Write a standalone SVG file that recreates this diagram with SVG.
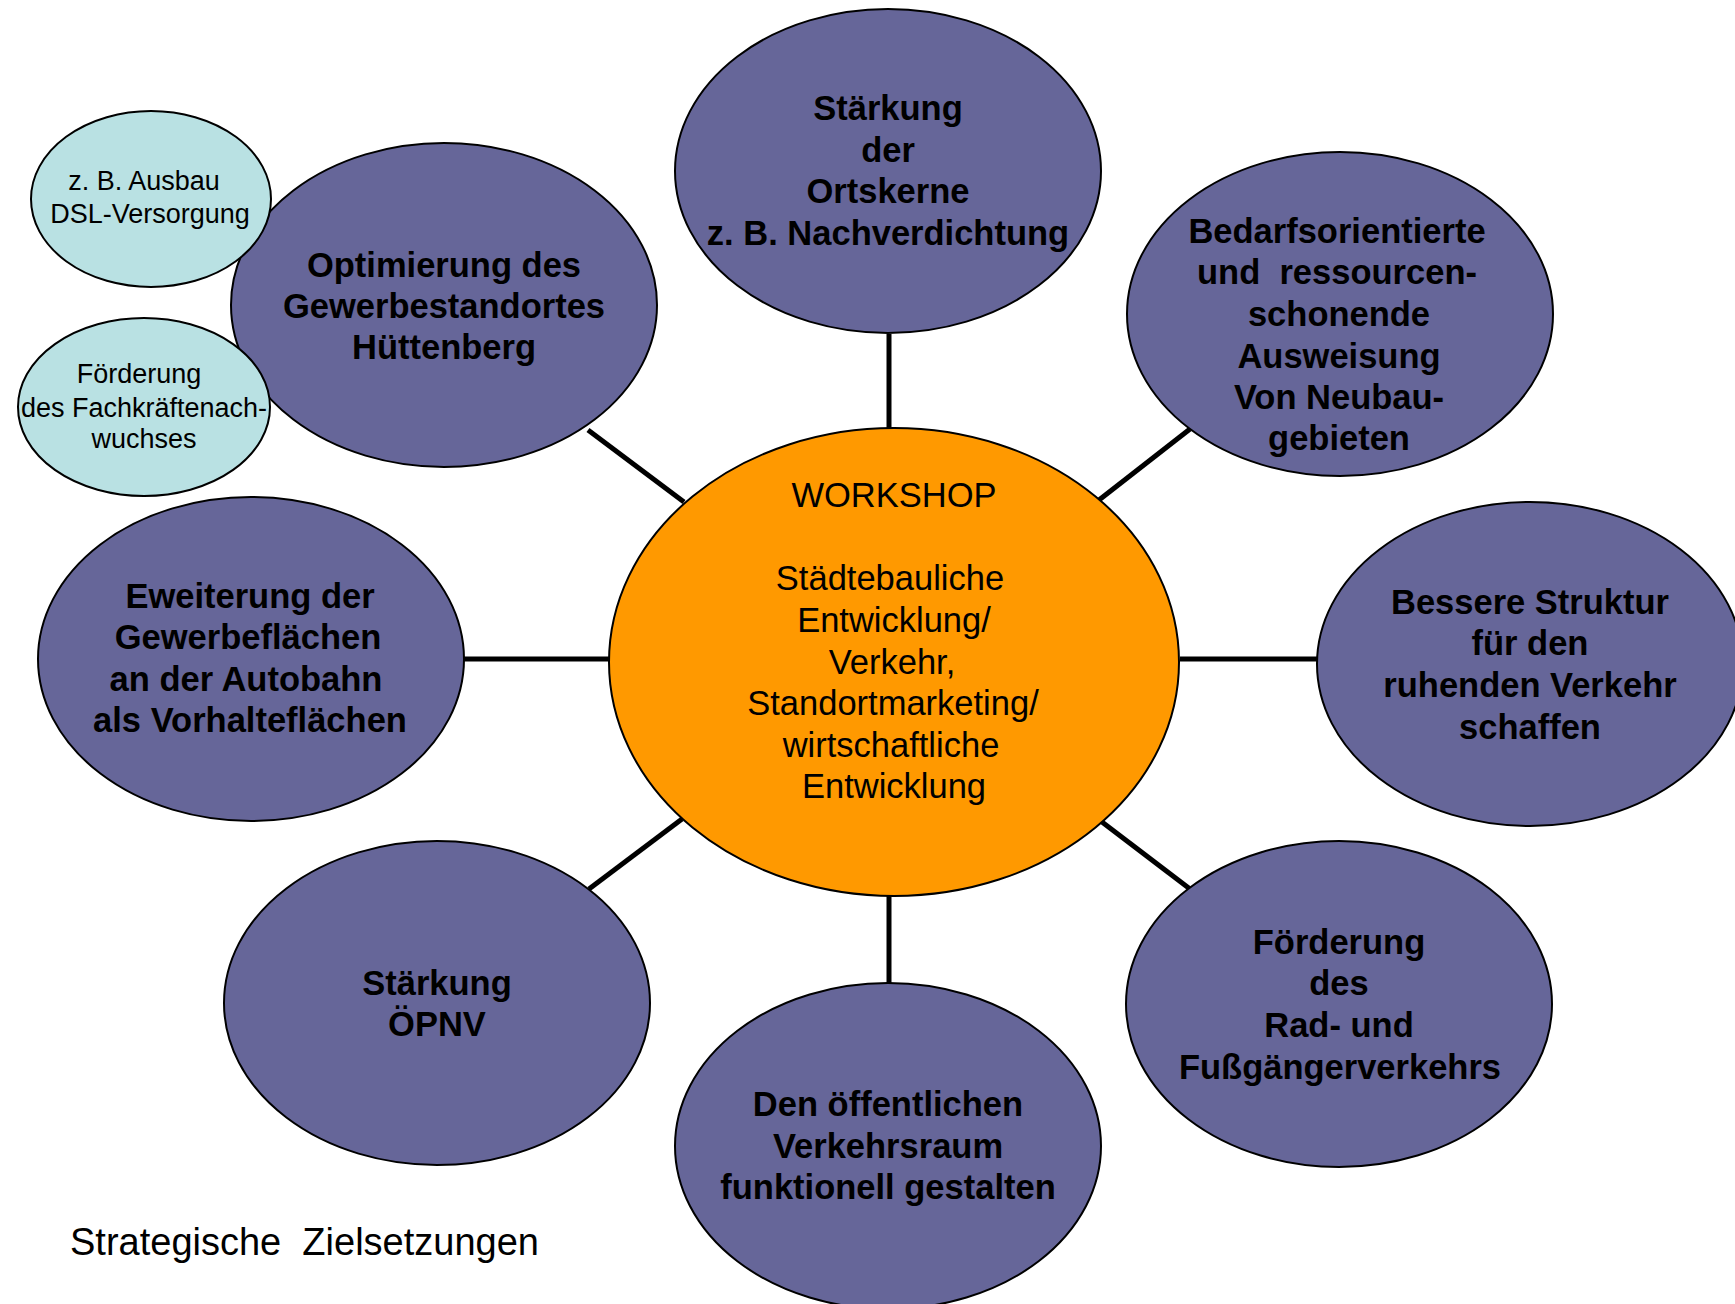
<svg xmlns="http://www.w3.org/2000/svg" width="1735" height="1304" viewBox="0 0 1735 1304">
<style>
.goal{fill:#666699;stroke:#000;stroke-width:2}
.sub{fill:#b9e1e3;stroke:#000;stroke-width:2}
.hub{fill:#ff9900;stroke:#000;stroke-width:2}
.con{stroke:#000;stroke-width:5;fill:none}
text{font-family:"Liberation Sans",Arial,sans-serif;fill:#000;text-anchor:middle;white-space:pre}
.b{font-weight:bold;font-size:34.5px}
.r{font-size:34.5px}
.s{font-size:27px}
</style>
<rect width="1735" height="1304" fill="#fff"/>
<g id="connectors">
<line class="con" x1="889" y1="334" x2="889" y2="428"/>
<line class="con" x1="889" y1="895" x2="889" y2="983"/>
<line class="con" x1="464" y1="659" x2="610" y2="659"/>
<line class="con" x1="1180" y1="659" x2="1317" y2="659"/>
<line class="con" x1="588" y1="430" x2="684" y2="502"/>
<line class="con" x1="1190" y1="429" x2="1099" y2="500"/>
<line class="con" x1="589" y1="889" x2="682" y2="819"/>
<line class="con" x1="1102" y1="822" x2="1190" y2="889"/>
</g>
<g id="hub">
<ellipse class="hub" cx="894" cy="662" rx="285" ry="234"/>
<text class="r" x="894" y="507">WORKSHOP</text>
<text class="r" x="890" y="590">Städtebauliche</text>
<text class="r" x="894" y="632">Entwicklung/</text>
<text class="r" x="892" y="674">Verkehr,</text>
<text class="r" x="893" y="715">Standortmarketing/</text>
<text class="r" x="891" y="757">wirtschaftliche</text>
<text class="r" x="894" y="798">Entwicklung</text>
</g>
<g id="ortskerne">
<ellipse class="goal" cx="888" cy="171" rx="213" ry="162"/>
<text class="b" x="888" y="120">Stärkung</text>
<text class="b" x="888" y="162">der</text>
<text class="b" x="888" y="203">Ortskerne</text>
<text class="b" x="888" y="245">z. B. Nachverdichtung</text>
</g>
<g id="optimierung">
<ellipse class="goal" cx="444" cy="305" rx="213" ry="162"/>
<text class="b" x="444" y="277">Optimierung des</text>
<text class="b" x="444" y="318">Gewerbestandortes</text>
<text class="b" x="444" y="359">Hüttenberg</text>
</g>
<g id="dsl">
<ellipse class="sub" cx="151" cy="199" rx="120" ry="88"/>
<text class="s" x="144" y="190">z. B. Ausbau</text>
<text class="s" x="150" y="223">DSL-Versorgung</text>
</g>
<g id="fachkraefte">
<ellipse class="sub" cx="144" cy="407" rx="126" ry="89"/>
<text class="s" x="139" y="383">Förderung</text>
<text class="s" x="144" y="417">des Fachkräftenach-</text>
<text class="s" x="144" y="448">wuchses</text>
</g>
<g id="bedarf">
<ellipse class="goal" cx="1340" cy="314" rx="213" ry="162"/>
<text class="b" x="1337" y="243">Bedarfsorientierte</text>
<text class="b" x="1337" y="284">und  ressourcen-</text>
<text class="b" x="1339" y="326">schonende</text>
<text class="b" x="1339" y="368">Ausweisung</text>
<text class="b" x="1339" y="409">Von Neubau-</text>
<text class="b" x="1339" y="450">gebieten</text>
</g>
<g id="struktur">
<ellipse class="goal" cx="1530" cy="664" rx="213" ry="162"/>
<text class="b" x="1530" y="614">Bessere Struktur</text>
<text class="b" x="1530" y="655">für den</text>
<text class="b" x="1530" y="697">ruhenden Verkehr</text>
<text class="b" x="1530" y="739">schaffen</text>
</g>
<g id="gewerbeflaechen">
<ellipse class="goal" cx="251" cy="659" rx="213" ry="162"/>
<text class="b" x="250" y="608">Eweiterung der</text>
<text class="b" x="248" y="649">Gewerbeflächen</text>
<text class="b" x="246" y="691">an der Autobahn</text>
<text class="b" x="250" y="732">als Vorhalteflächen</text>
</g>
<g id="oepnv">
<ellipse class="goal" cx="437" cy="1003" rx="213" ry="162"/>
<text class="b" x="437" y="995">Stärkung</text>
<text class="b" x="437" y="1036">ÖPNV</text>
</g>
<g id="verkehrsraum">
<ellipse class="goal" cx="888" cy="1146" rx="213" ry="163"/>
<text class="b" x="888" y="1116">Den öffentlichen</text>
<text class="b" x="888" y="1158">Verkehrsraum</text>
<text class="b" x="888" y="1199">funktionell gestalten</text>
</g>
<g id="radverkehr">
<ellipse class="goal" cx="1339" cy="1004" rx="213" ry="163"/>
<text class="b" x="1339" y="954">Förderung</text>
<text class="b" x="1339" y="995">des</text>
<text class="b" x="1339" y="1037">Rad- und</text>
<text class="b" x="1340" y="1079">Fußgängerverkehrs</text>
</g>
<g id="caption">
<text x="70" y="1255" style="font-size:38px;text-anchor:start">Strategische  Zielsetzungen</text>
</g>
</svg>
